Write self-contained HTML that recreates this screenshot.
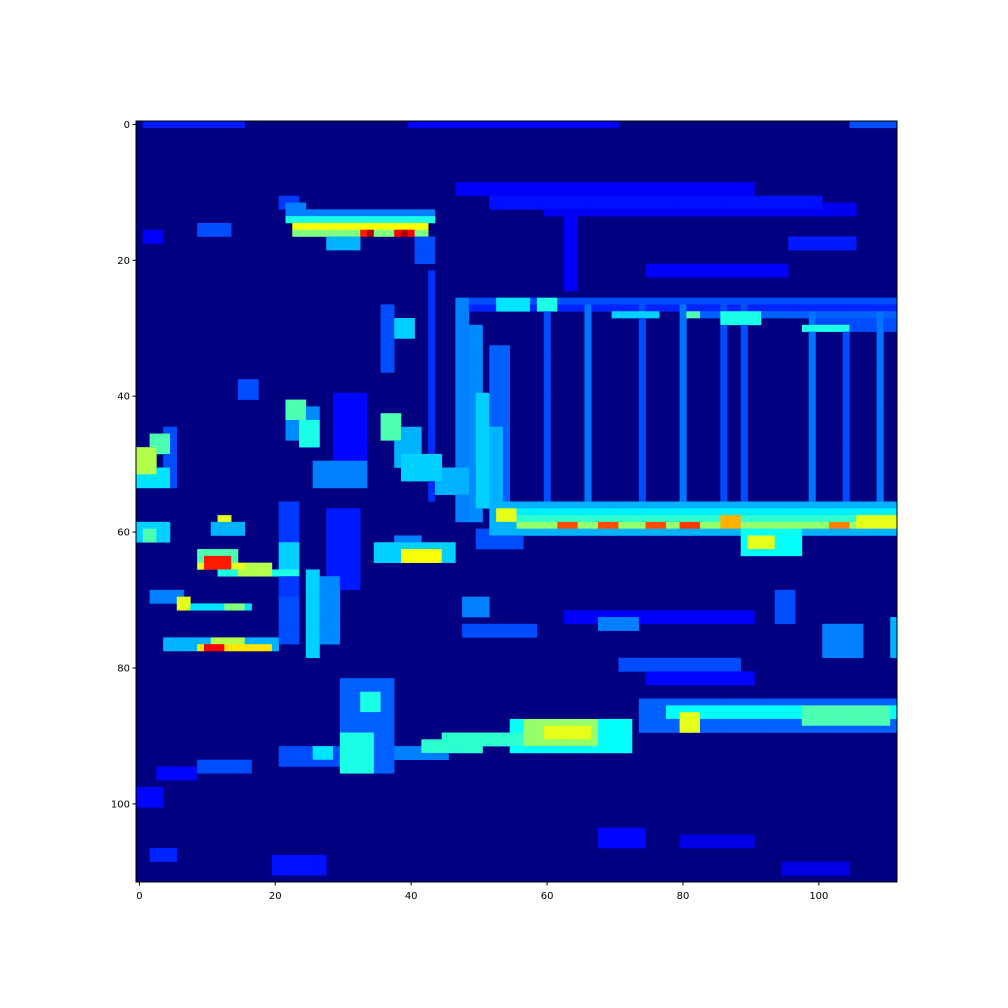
<!DOCTYPE html>
<html><head><meta charset="utf-8"><style>
body{margin:0;background:#fff;width:1008px;height:1008px;overflow:hidden}
svg{display:block}
text{font-family:"DejaVu Sans","Liberation Sans",sans-serif;font-size:10px;fill:#000}
</style></head><body>
<svg id="chart" width="1008" height="1008" viewBox="0 0 1008 1008"></svg>
<script>
// heatmap size and features: [rowStart,rowEnd,colStart,colEnd,value]
const nRows = 112;
const nCols = 112;
const xTicks = [0,20,40,60,80,100];
const yTicks = [0,20,40,60,80,100];
const segments = [
[0,0,1,15,0.15],[0,0,105,111,0.2],[0,0,40,70,0.12],
[9,10,47,90,0.12],[11,12,52,100,0.14],[12,13,60,105,0.11],
[11,12,21,23,0.18],[12,13,22,24,0.25],
[13,13,22,43,0.25],[14,14,22,43,0.4],[15,15,23,42,0.62],[16,16,23,42,0.5],
[16,16,33,34,0.85],[16,16,34,34,0.95],[16,16,38,40,0.88],[16,16,39,39,0.95],
[17,18,28,32,0.3],[17,20,41,43,0.2],[15,16,9,13,0.2],[16,17,1,3,0.12],
[14,24,63,64,0.12],[21,22,75,95,0.12],[17,18,96,105,0.15],
[26,26,47,112,0.2],[27,27,47,112,0.16],[28,28,80,112,0.22],[29,30,99,112,0.2],
[26,27,53,57,0.35],[26,27,59,61,0.4],[28,28,70,76,0.33],[28,28,81,82,0.45],[28,29,86,91,0.4],[30,30,98,104,0.4],
[27,57,60,60,0.2],[27,57,66,66,0.24],[27,57,74,74,0.2],[27,57,80,80,0.24],[27,57,86,86,0.2],[27,57,89,89,0.2],[28,57,99,99,0.24],[28,57,104,104,0.2],[28,57,109,109,0.24],
[26,58,47,48,0.25],[30,58,49,50,0.26],[33,58,52,54,0.22],[40,56,50,51,0.33],[45,55,52,53,0.3],
[22,55,43,43,0.17],[27,36,36,37,0.2],[29,31,38,40,0.33],
[38,40,15,17,0.2],[41,43,22,24,0.45],[42,46,22,26,0.26],[44,47,24,26,0.4],[40,53,29,33,0.13],
[43,46,36,38,0.45],[45,50,38,41,0.3],[49,52,39,44,0.33],[51,54,44,48,0.3],[50,53,26,33,0.25],
[46,48,2,4,0.45],[48,51,0,2,0.55],[51,53,0,4,0.35],[45,53,4,5,0.2],
[58,58,12,13,0.6],[59,60,11,15,0.3],[59,61,0,4,0.33],[60,61,1,2,0.45],
[56,60,52,112,0.3],[57,57,53,112,0.36],[58,58,54,112,0.42],[57,58,53,55,0.6],[59,59,56,112,0.52],[59,59,62,64,0.8],[59,59,68,70,0.8],[59,59,75,77,0.8],[59,59,80,82,0.82],[58,59,86,88,0.7],[59,59,102,104,0.75],[58,59,106,111,0.6],
[60,62,50,56,0.2],[60,63,89,97,0.38],[61,62,90,93,0.6],
[56,75,21,23,0.18],[57,68,28,32,0.15],[62,65,21,23,0.33],
[63,64,9,14,0.45],[64,65,10,13,0.85],[65,65,9,15,0.6],[66,66,12,23,0.4],[65,66,15,19,0.55],
[66,78,25,26,0.33],[67,76,27,29,0.26],[70,76,21,23,0.2],
[62,64,35,46,0.33],[63,64,39,44,0.62],[61,62,38,41,0.25],
[69,70,2,6,0.25],[70,71,6,7,0.6],[71,71,6,16,0.35],[71,71,13,15,0.5],
[70,72,48,51,0.25],[74,75,48,58,0.2],[73,74,68,73,0.25],[72,73,63,90,0.12],
[76,77,4,20,0.3],[77,77,9,19,0.65],[77,77,10,12,0.88],[76,76,11,15,0.55],
[74,78,101,106,0.25],[73,78,111,112,0.3],[69,73,94,96,0.2],
[79,80,71,88,0.2],[81,82,75,90,0.13],
[85,89,74,112,0.22],[86,87,78,112,0.38],[86,88,98,110,0.45],[87,89,80,82,0.6],
[82,95,30,37,0.22],[84,86,33,35,0.4],[90,95,30,34,0.4],
[92,94,21,30,0.2],[92,93,26,28,0.35],
[88,92,55,72,0.38],[88,91,57,67,0.52],[89,90,60,66,0.6],[90,91,45,57,0.42],[91,92,42,50,0.42],[92,93,38,45,0.25],
[94,95,9,16,0.2],[95,96,3,8,0.13],[98,100,0,3,0.13],
[104,106,68,74,0.13],[105,106,80,90,0.1],[108,110,20,27,0.14],[109,110,95,104,0.1],[107,108,2,5,0.16]
];

function jet(v){
  const c = x => Math.max(0, Math.min(1, x));
  const r = c(1.5 - Math.abs(4*v - 3)), g = c(1.5 - Math.abs(4*v - 2)), b = c(1.5 - Math.abs(4*v - 1));
  return 'rgb(' + Math.round(r*255) + ',' + Math.round(g*255) + ',' + Math.round(b*255) + ')';
}
const L = 136, T = 121, W = 761, H = 761;
const cw = W / nCols, ch = H / nRows;
const xScale = c => L + c * cw;
const yScale = r => T + r * ch;
const NS = 'http://www.w3.org/2000/svg';
const svg = document.getElementById('chart');
function mk(tag, attrs){ const e = document.createElementNS(NS, tag); for (const k in attrs) e.setAttribute(k, attrs[k]); return e; }

const grid = [];
for (let r = 0; r < nRows; r++) grid.push(new Array(nCols).fill(0));
segments.forEach(s => {
  for (let r = s[0]; r <= Math.min(s[1], nRows-1); r++)
    for (let c = s[2]; c <= Math.min(s[3], nCols-1); c++)
      grid[r][c] = Math.max(grid[r][c], s[4]);
});

const bg = mk('rect', {x:L, y:T, width:W, height:H, fill:jet(0)});


svg.appendChild(bg);
const g = mk('g', {});


svg.appendChild(g);
for (let r = 0; r < nRows; r++) for (let c = 0; c < nCols; c++) {
  const v = grid[r][c];
  if (v <= 0) continue;
  const cell = mk('rect', {x:xScale(c).toFixed(2), y:yScale(r).toFixed(2), width:(cw+0.3).toFixed(2), height:(ch+0.3).toFixed(2), fill:jet(v)});
  
  
  g.appendChild(cell);
}
const frame = mk('rect', {x:L, y:T, width:W, height:H, fill:'none', stroke:'#000', 'stroke-width':1});


svg.appendChild(frame);

xTicks.forEach(t => {
  const x = xScale(t + 0.5);
  const tk = mk('line', {x1:x, x2:x, y1:T+H, y2:T+H+3.5, stroke:'#000'});
  
  
  svg.appendChild(tk);
  const lb = mk('text', {x:x, y:T+H+17, 'text-anchor':'middle'});
  lb.textContent = t;
  
  
  svg.appendChild(lb);
});
yTicks.forEach(t => {
  const y = yScale(t + 0.5);
  const tk = mk('line', {x1:L-3.5, x2:L, y1:y, y2:y, stroke:'#000'});
  
  
  svg.appendChild(tk);
  const lb = mk('text', {x:L-6, y:y+3.5, 'text-anchor':'end'});
  lb.textContent = t;
  
  
  svg.appendChild(lb);
});
</script>
</body></html>
